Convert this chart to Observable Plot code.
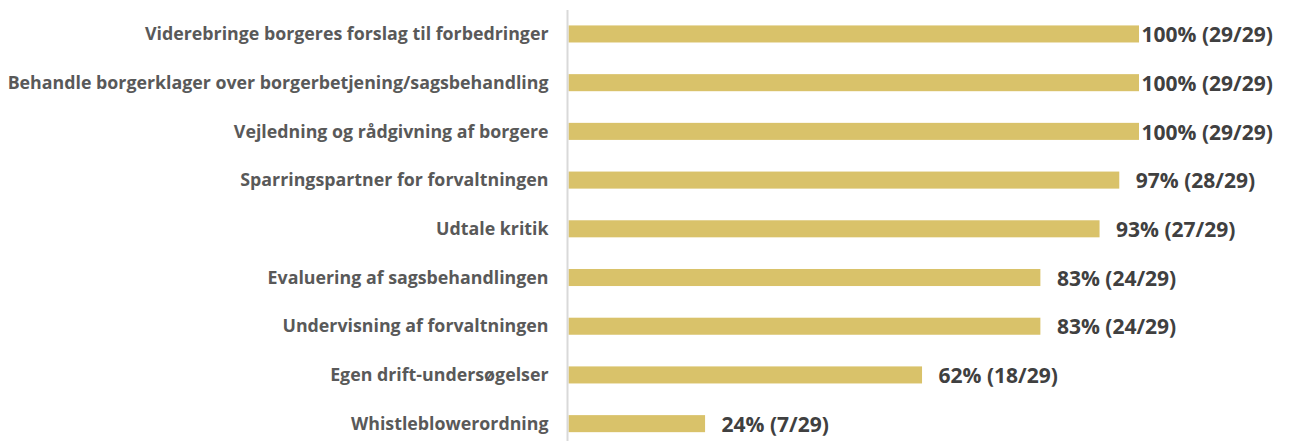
<!DOCTYPE html>
<html><head><meta charset="utf-8">
<script src="https://cdn.jsdelivr.net/npm/d3@7"></script>
<script src="https://cdn.jsdelivr.net/npm/@observablehq/plot@0.6"></script>
<style>body{margin:0;background:#fff;} svg{font-family:"Open Sans",sans-serif;}</style>
</head><body><div id="chart"></div>
<script>
const categories = [
  "Viderebringe borgeres forslag til forbedringer",
  "Behandle borgerklager over borgerbetjening/sagsbehandling",
  "Vejledning og rådgivning af borgere",
  "Sparringspartner for forvaltningen",
  "Udtale kritik",
  "Evaluering af sagsbehandlingen",
  "Undervisning af forvaltningen",
  "Egen drift-undersøgelser",
  "Whistleblowerordning"
];
const counts = [29, 29, 29, 28, 27, 24, 24, 18, 7];
const total = 29;
const labels = ["100% (29/29)","100% (29/29)","100% (29/29)","97% (28/29)","93% (27/29)","83% (24/29)","83% (24/29)","62% (18/29)","24% (7/29)"];

const data = categories.map((c, i) => ({cat: c, v: counts[i] / total, label: labels[i]}));

const chart = Plot.plot({
  width: 1289,
  height: 441,
  marginLeft: 567,
  marginRight: 150,
  marginTop: 10,
  marginBottom: 0,
  x: {domain: [0, 1], axis: null},
  y: {domain: categories, range: [9.6, 448], round: false, paddingInner: 0.65, paddingOuter: 0.325, axis: null},
  style: {fontFamily: "'Open Sans', sans-serif"},
  marks: [
    Plot.barX(data, {x: "v", y: "cat", fill: "#D9C26A", insetLeft: 1.5}),
    Plot.ruleX([0], {stroke: "#D9D9D9", strokeWidth: 2}),
    Plot.text(data, {x: 0, y: "cat", text: "cat", textAnchor: "end", dx: -19, dy: 0, fontSize: 17.8, fontWeight: "bold", fill: "#595959"}),
    Plot.text(data.filter(d => d.v < 0.999), {x: "v", y: "cat", text: "label", textAnchor: "start", dx: 16, dy: 1, fontSize: 21, fontWeight: "bold", fill: "#404040"}),
    Plot.text(data.filter(d => d.v >= 0.999), {x: "v", y: "cat", text: "label", textAnchor: "start", dx: 2, dy: 1, fontSize: 21, fontWeight: "bold", fill: "#404040"})
  ]
});
document.getElementById("chart").appendChild(chart);
</script></body></html>
